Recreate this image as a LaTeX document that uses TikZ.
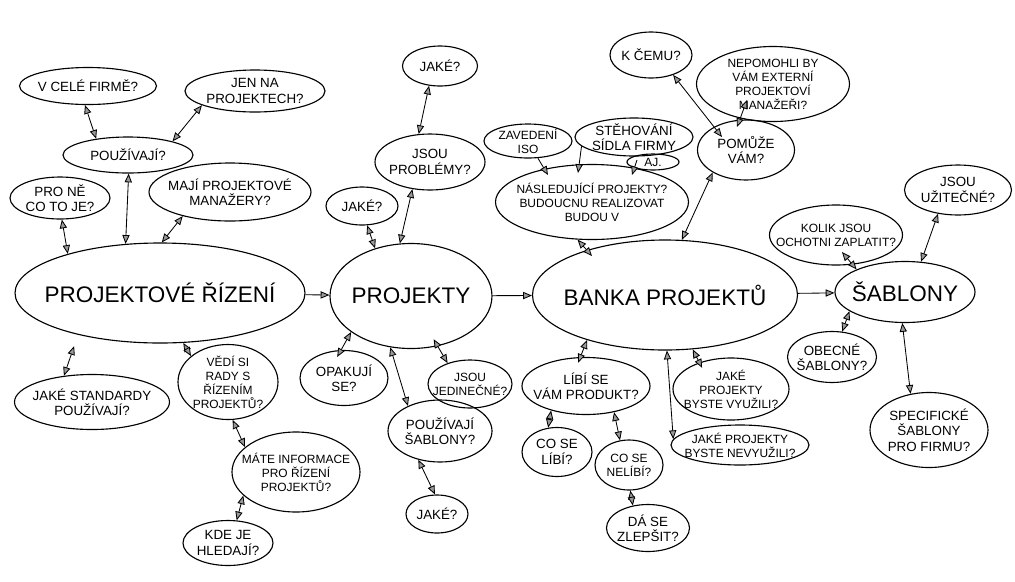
\documentclass[tikz,border=0pt]{standalone}
\usepackage{fontspec}
\setmainfont{Liberation Sans}
\usetikzlibrary{arrows.meta,shapes.geometric,calc}

\tikzset{
    >={Triangle[length=2.2mm, width=1.8mm, fill=black!40]},
    bub/.style={ellipse, draw, line width=0.8pt, inner sep=0pt},
    bsize/.style 2 args={minimum width=#1*0.025cm, minimum height=#2*0.025cm},
    txt/.style={align=center, inner sep=0pt, font=\fontsize{9.5}{11}\selectfont},
    tight/.style={txt, font=\fontsize{8.5}{10}\selectfont},
    big/.style={align=center, inner sep=0pt, font=\fontsize{16}{18}\selectfont},
    link/.style={<->, line width=0.6pt},
    flow/.style={->, line width=0.6pt}
}

\begin{document}
\begin{tikzpicture}[x=0.025cm, y=-0.025cm]
    \useasboundingbox (0,0) rectangle (1015,581);

    % projektove rizeni
    \node[bub, bsize={290}{100}, label={[big]center:PROJEKTOVÉ ŘÍZENÍ}] (pr) at (160,293) {};
    \node[bub, bsize={137}{37}, label={[txt]center:V CELÉ FIRMĚ?}] (vcf) at (88,86) {};
    \node[bub, bsize={140}{42}, label={[txt]center:JEN NA\\PROJEKTECH?}] (jen) at (255,91) {};
    \node[bub, bsize={130}{36}, label={[txt]center:POUŽÍVAJÍ?}] (pou) at (128,155) {};
    \node[bub, bsize={100}{42}, label={[txt]center:PRO NĚ\\CO TO JE?}] (prone) at (60,198) {};
    \node[bub, bsize={162}{58}, label={[txt]center:MAJÍ PROJEKTOVÉ\\MANAŽERY?}] (maji) at (230,192) {};
    \node[bub, bsize={155}{55}, label={[txt]center:JAKÉ STANDARDY\\POUŽÍVAJÍ?}] (std) at (92,402) {};
    \node[bub, bsize={100}{75}, label={[tight]center:VĚDÍ SI\\RADY S\\ŘÍZENÍM\\PROJEKTŮ?}] (vedi) at (228,382) {};
    \node[bub, bsize={128}{80}, label={[tight]center:MÁTE INFORMACE\\PRO ŘÍZENÍ\\PROJEKTŮ?}] (mate) at (296,472) {};
    \node[bub, bsize={90}{45}, label={[txt]center:KDE JE\\HLEDAJÍ?}] (kde) at (228,543) {};

    % projekty
    \node[bub, bsize={162}{105}, label={[big]center:PROJEKTY}] (prj) at (411,296) {};
    \node[bub, bsize={75}{40}, label={[txt]center:JAKÉ?}] (jake1) at (440,66) {};
    \node[bub, bsize={110}{56}, label={[txt]center:JSOU\\PROBLÉMY?}] (probl) at (430,162) {};
    \node[bub, bsize={72}{38}, label={[txt]center:JAKÉ?}] (jake2) at (362,206) {};
    \node[bub, bsize={88}{55}, label={[txt]center:OPAKUJÍ\\SE?}] (opak) at (344,378) {};
    \node[bub, bsize={84}{48}, label={[tight]center:JSOU\\JEDINEČNÉ?}] (jedin) at (470,384) {};
    \node[bub, bsize={104}{62}, label={[txt]center:POUŽÍVAJÍ\\ŠABLONY?}] (sabl) at (440,431) {};
    \node[bub, bsize={62}{38}, label={[txt]center:JAKÉ?}] (jake3) at (437,514) {};

    % banka projektu
    \node[bub, bsize={265}{110}, label={[big]center:BANKA PROJEKTŮ}] (banka) at (665,295) {};
    \node[bub, bsize={88}{34}, label={[tight]center:ZAVEDENÍ\\ISO}] (iso) at (528,141) {};
    \node[bub, bsize={118}{38}, label={[txt]center:STĚHOVÁNÍ\\SÍDLA FIRMY}] (steh) at (634,137) {};
    \node[bub, bsize={52}{16}, label={[tight]center:AJ.}] (aj) at (653,162) {};
    \node[bub, bsize={193}{75}, label={[tight]center:NÁSLEDUJÍCÍ PROJEKTY?\\BUDOUCNU REALIZOVAT\\BUDOU V}] (nasl) at (592,202) {};
    \node[bub, bsize={82}{46}, label={[txt]center:K ČEMU?}] (kcemu) at (651,55) {};
    \node[bub, bsize={153}{75}, label={[tight]center:NEPOMOHLI BY\\VÁM EXTERNÍ\\PROJEKTOVÍ\\MANAŽEŘI?}] (nepom) at (773,84) {};
    \node[bub, bsize={97}{60}, label={[txt]center:POMŮŽE\\VÁM?}] (pomuze) at (746,150) {};
    \node[bub, bsize={128}{57}, label={[txt]center:LÍBÍ SE\\VÁM PRODUKT?}] (libi) at (586,386) {};
    \node[bub, bsize={70}{49}, label={[txt]center:CO SE\\LÍBÍ?}] (colibi) at (557,452) {};
    \node[bub, bsize={68}{50}, label={[tight]center:CO SE\\NELÍBÍ?}] (conelibi) at (629,465) {};
    \node[bub, bsize={83}{47}, label={[txt]center:DÁ SE\\ZLEPŠIT?}] (zlepsit) at (648,528) {};
    \node[bub, bsize={116}{62}, label={[tight]center:JAKÉ\\PROJEKTY\\BYSTE VYUŽILI?}] (vyuz) at (731,389) {};
    \node[bub, bsize={138}{40}, label={[tight]center:JAKÉ PROJEKTY\\BYSTE NEVYUŽILI?}] (nevyuz) at (740,445) {};

    % sablony
    \node[bub, bsize={140}{61}, label={[big]center:ŠABLONY}] (sab) at (905,292) {};
    \node[bub, bsize={133}{60}, label={[tight]center:KOLIK JSOU\\OCHOTNI ZAPLATIT?}] (kolik) at (836,235) {};
    \node[bub, bsize={107}{50}, label={[txt]center:JSOU\\UŽITEČNÉ?}] (uzit) at (958,190) {};
    \node[bub, bsize={89}{51}, label={[txt]center:OBECNÉ\\ŠABLONY?}] (obec) at (832,357) {};
    \node[bub, bsize={118}{75}, label={[txt]center:SPECIFICKÉ\\ŠABLONY\\PRO FIRMU?}] (spec) at (929,430) {};

    % vazby
    \draw[link] (vcf.261) -- (pou.153);
    \draw[link] (jen.195) -- (pou.17);
    \draw[link] (pou.272) -- (pr.125);
    \draw[link] (prone.275) -- (pr.157);
    \draw[link] (maji.207) -- (pr.88);
    \draw[link, shorten >=3mm] (std.137) -- (pr.207);
    \draw[link] (pr.295) -- (vedi.145);
    \draw[link] (vedi.277) -- (mate.154);
    \draw[link] (mate.204) -- (kde.69);
    \draw[flow] (pr) -- (prj);
    \draw[link] (prj.127) -- (jake2.285);
    \draw[link] (prj.102) -- (probl.237);
    \draw[link] (probl.112) -- (jake1.241);
    \draw[link, shorten >=-2mm] (prj.211) -- (opak.96);
    \draw[link] (prj.248) -- (sabl.142);
    \draw[link, shorten <=-2mm] (prj.298) -- (jedin.137);
    \draw[link] (sabl.233) -- (jake3.96);
    \draw[flow] (prj) -- (banka);
    \draw[flow] (iso.300) -- ($(nasl)+(-44,-27)$);
    \draw[flow] (steh.190) -- ($(nasl)+(-14,-29)$);
    \draw[flow] ($(aj)+(-16,-2)$) -- ($(nasl)+(40,-27)$);
    \draw[link] (nasl.249) -- ($(banka)+(-73,-39)$);
    \draw[link] (banka.73) -- (pomuze.214);
    \draw[link] (kcemu.318) -- ($(pomuze)+(-24,-13)$);
    \draw[link] ($(pomuze)+(-9,-23)$) -- ($(nepom)+(-26,16)$);
    \draw[link, shorten >=-1.5mm] (banka.210) -- (libi.101);
    \draw[link] (libi.215) -- (colibi.110);
    \draw[link] (libi.317) -- (conelibi.110);
    \draw[link] (conelibi.273) -- (zlepsit.124);
    \draw[link, shorten >=-1.5mm] (banka.297) -- (vyuz.140);
    \draw[link] (banka.272) -- (nevyuz.175);
    \draw[flow] (banka) -- (sab);
    \draw[link] (sab.155) -- ($(kolik)+(6,17)$);
    \draw[link] (sab.62) -- (uzit.230);
    \draw[link] (sab.199) -- (obec.68);
    \draw[link] (sab.265) -- (spec.117);
\end{tikzpicture}
\end{document}
